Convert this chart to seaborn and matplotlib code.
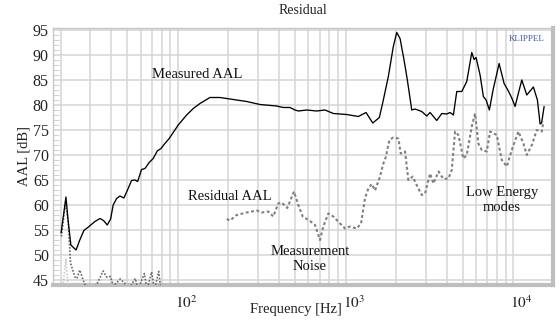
import matplotlib
matplotlib.use("Agg")
import matplotlib.pyplot as plt
import matplotlib.ticker as mticker
from matplotlib.transforms import ScaledTranslation
import seaborn as sns
import pandas as pd

# ---------------- data ----------------
meas_freq = [20.1, 20.8, 21.5, 22.2, 23.0, 24.7, 26.0, 27.5, 29.5, 32.0, 34.3, 36.0, 37.9, 39.7,
             41.1, 43.1, 45.1, 47.6, 49.9, 52.9, 55.4, 57.5, 60.7, 63.6, 67.4, 71.2, 75.3, 79.2,
             83.6, 88.7, 94.6, 100.4, 112.7, 123.4, 135.3, 155.1, 178, 204, 256.9, 308.3, 387.8,
             424.6, 465.5, 498.6, 521.8, 585.6, 671.5, 752.9, 843.6, 1014, 1189, 1322, 1449, 1587,
             1676, 1795, 1922, 2014, 2108, 2227, 2330, 2475, 2590, 2840, 3041, 3183, 3489, 3737,
             4002, 4188, 4383, 4591, 4918, 5267, 5642, 5821, 5984, 6322, 6615, 6866, 7182, 7555,
             8209, 8790, 9325, 9767, 10224, 10464, 11208, 12004, 13144, 13887, 14411, 14712, 15225]
meas_db = [54.4, 58.0, 61.6, 56.6, 52.0, 51.0, 53.0, 54.9, 55.7, 56.7, 57.3, 56.9, 56.0, 57.2,
           60.0, 61.3, 61.8, 61.4, 62.9, 64.9, 65.0, 64.7, 67.1, 67.3, 68.5, 69.3, 70.8, 71.3,
           72.3, 73.3, 74.7, 76.0, 78.0, 79.3, 80.3, 81.5, 81.5, 81.2, 80.7, 80.1, 79.8,
           79.5, 79.5, 79.0, 78.8, 79.0, 78.8, 79.0, 78.3, 78.1, 77.7, 78.5, 76.4, 77.5,
           81.0, 85.7, 91.7, 94.5, 93.3, 89.0, 85.0, 79.0, 79.2, 78.7, 77.8, 78.5, 76.9, 78.3,
           78.2, 78.5, 78.0, 82.7, 82.7, 84.7, 90.5, 89.1, 89.5, 86.0, 81.7, 81.0, 79.0, 83.0,
           88.3, 84.3, 82.8, 81.4, 79.7, 81.1, 85.0, 82.0, 83.6, 81.0, 76.2, 76.4, 79.7]

resid_freq = [195.2, 204.2, 223.9, 256.9, 294.7, 315.6, 345.5, 370, 396.3, 415.3, 448.5, 491.7,
              521.8, 554.2, 612.6, 656.2, 702.8, 735.3, 787.5, 843.6, 924.7, 990.4, 1061, 1163,
              1234, 1304, 1364, 1429, 1495, 1602, 1676, 1739, 1820, 1922, 2059, 2128, 2257, 2362,
              2509, 2673, 2840, 2971, 3183, 3330, 3576, 3819, 4092, 4286, 4485, 4693, 5025, 5267,
              5642, 5902, 6176, 6471, 6930, 7253, 7953, 8518, 9124, 9767, 10696, 11459, 12004,
              12861, 13773, 14753, 15076]
resid_db = [57.2, 56.9, 58.0, 58.5, 58.9, 58.5, 58.7, 57.7, 60.3, 60.5, 59.4, 62.7,
            60.0, 57.7, 56.8, 56.0, 53.0, 55.7, 58.3, 57.7, 56.3, 55.3, 55.7, 55.3,
            56.3, 61.4, 63.3, 64.2, 62.9, 65.7, 68.3, 69.7, 73.0, 73.5, 73.3, 70.3, 70.7, 65.0,
            65.7, 63.7, 62.0, 62.3, 66.3, 64.3, 66.7, 65.2, 65.3, 67.0, 74.7, 74.0, 69.3, 70.0,
            75.7, 78.3, 72.3, 71.0, 70.7, 74.7, 74.0, 69.0, 67.7, 71.0, 74.7, 72.3, 70.0,
            72.0, 75.0, 74.7, 76.7]

noise_freq = [20.2, 21.4, 22.2, 22.9, 24.3, 25.0, 26.0, 27.2, 28.3, 32.0, 33.5, 35.8, 37.6, 39.6,
              41.2, 45.3, 48.0, 50.3, 55.8, 57.7, 63.1, 65.3, 69.7, 72.4, 76.8, 79.2]
noise_db = [53.7, 60.6, 56.3, 48.4, 45.6, 45.3, 47.0, 45.0, 43.6, 43.6, 44.7, 46.8, 45.6, 45.7,
            43.8, 45.2, 44.4, 43.0, 45.3, 43.0, 46.3, 43.0, 46.6, 43.0, 46.7, 43.0]

spike_freq = [20.5, 21.5, 22.2]
spike_db = [43.0, 49.3, 43.0]

y_ticks = [45, 50, 55, 60, 65, 70, 75, 80, 85, 90, 95]
x_ticks = [100, 1000, 10000]
x_tick_labels = [r"$10^{2}$", r"$10^{3}$", r"$10^{4}$"]

# ---------------- style ----------------
sns.set_theme(style="white")
plt.rcParams["font.family"] = ["Liberation Serif", "DejaVu Serif"]
plt.rcParams["mathtext.fontset"] = "stix"

fig = plt.figure(figsize=(5.6, 3.2), dpi=100)
ax = fig.add_axes([53 / 560, 1 - 285 / 320, 500 / 560, 257.5 / 320])

grid_c = "#d4d4d4"

meas_df = pd.DataFrame({"f": meas_freq, "db": meas_db})
resid_df = pd.DataFrame({"f": resid_freq, "db": resid_db})
noise_df = pd.DataFrame({"f": noise_freq, "db": noise_db})
spike_df = pd.DataFrame({"f": spike_freq, "db": spike_db})

sns.lineplot(data=spike_df, x="f", y="db", ax=ax, color="#c8c8c8", lw=1.2,
             linestyle=(0, (1, 1)), zorder=3)
sns.lineplot(data=noise_df, x="f", y="db", ax=ax, color="#6a6a6a", lw=1.2,
             linestyle=(0, (1, 1)), zorder=3)
sns.lineplot(data=resid_df, x="f", y="db", ax=ax, color="#808080", lw=1.5,
             linestyle=(0, (1.4, 1.2)), zorder=4)
sns.lineplot(data=meas_df, x="f", y="db", ax=ax, color="black", lw=0.95, zorder=5)

ax.set_xscale("log")
ax.set_xlim(18, 17200)
ax.set_ylim(44, 95.5)

ax.set_yticks(y_ticks)
ax.set_yticklabels([str(v) for v in y_ticks])
ax.yaxis.set_minor_locator(mticker.MultipleLocator(1))
ax.set_xticks(x_ticks)
ax.set_xticklabels(x_tick_labels)
ax.xaxis.set_minor_locator(mticker.LogLocator(base=10, subs=range(2, 10), numticks=20))
ax.xaxis.set_minor_formatter(mticker.NullFormatter())

ax.grid(True, which="major", axis="both", color=grid_c, lw=1.1)
ax.grid(True, which="minor", axis="x", color=grid_c, lw=1.1)
ax.set_axisbelow(True)

ax.tick_params(axis="y", which="major", length=0, pad=3, labelsize=11.5, colors="#222222")
ax.tick_params(axis="y", which="minor", direction="in", length=4, width=0.8, color=grid_c, left=True)
ax.tick_params(axis="x", which="major", direction="out", length=5, width=1.0, color=grid_c,
               pad=2, labelsize=11, labelcolor="#222222")
ax.tick_params(axis="x", which="minor", length=0)

for lab in ax.get_xticklabels():
    lab.set_ha("left")
    lab.set_transform(lab.get_transform() + ScaledTranslation(-3 / 100, 0, fig.dpi_scale_trans))

for side in ["top", "left"]:
    ax.spines[side].set_color("#c8c8c8")
    ax.spines[side].set_linewidth(1.0)
for side in ["bottom", "right"]:
    ax.spines[side].set_color("#bebebe")
    ax.spines[side].set_linewidth(3.0)

ax.set_xlabel("Frequency [Hz]", fontsize=10.5, color="#222222")
ax.set_ylabel("AAL [dB]", fontsize=10.5, color="#222222")
ax.xaxis.set_label_coords(0.485, -0.070)
ax.yaxis.set_label_coords(-0.044, 0.5)

fig.text(303 / 560, 1 - 10 / 320, "Residual", ha="center", va="center", fontsize=10, color="#222222")
ax.text(0.984, 0.955, "KLIPPEL", transform=ax.transAxes, ha="right", va="center",
        fontsize=6.5, color="#3a5aa8")

ax.text(70.0, 86.2, "Measured AAL", ha="left", va="center", fontsize=10.5, color="#111111")
ax.text(114.7, 61.8, "Residual AAL", ha="left", va="center", fontsize=10.5, color="#111111")
ax.text(612, 49.2, "Measurement\nNoise", ha="center", va="center", multialignment="center",
        fontsize=10.5, color="#111111", linespacing=1.15)
ax.text(8551, 61.0, "Low Energy\nmodes", ha="center", va="center", multialignment="center",
        fontsize=10.5, color="#111111", linespacing=1.15)

fig.savefig("out.png", dpi=100)
